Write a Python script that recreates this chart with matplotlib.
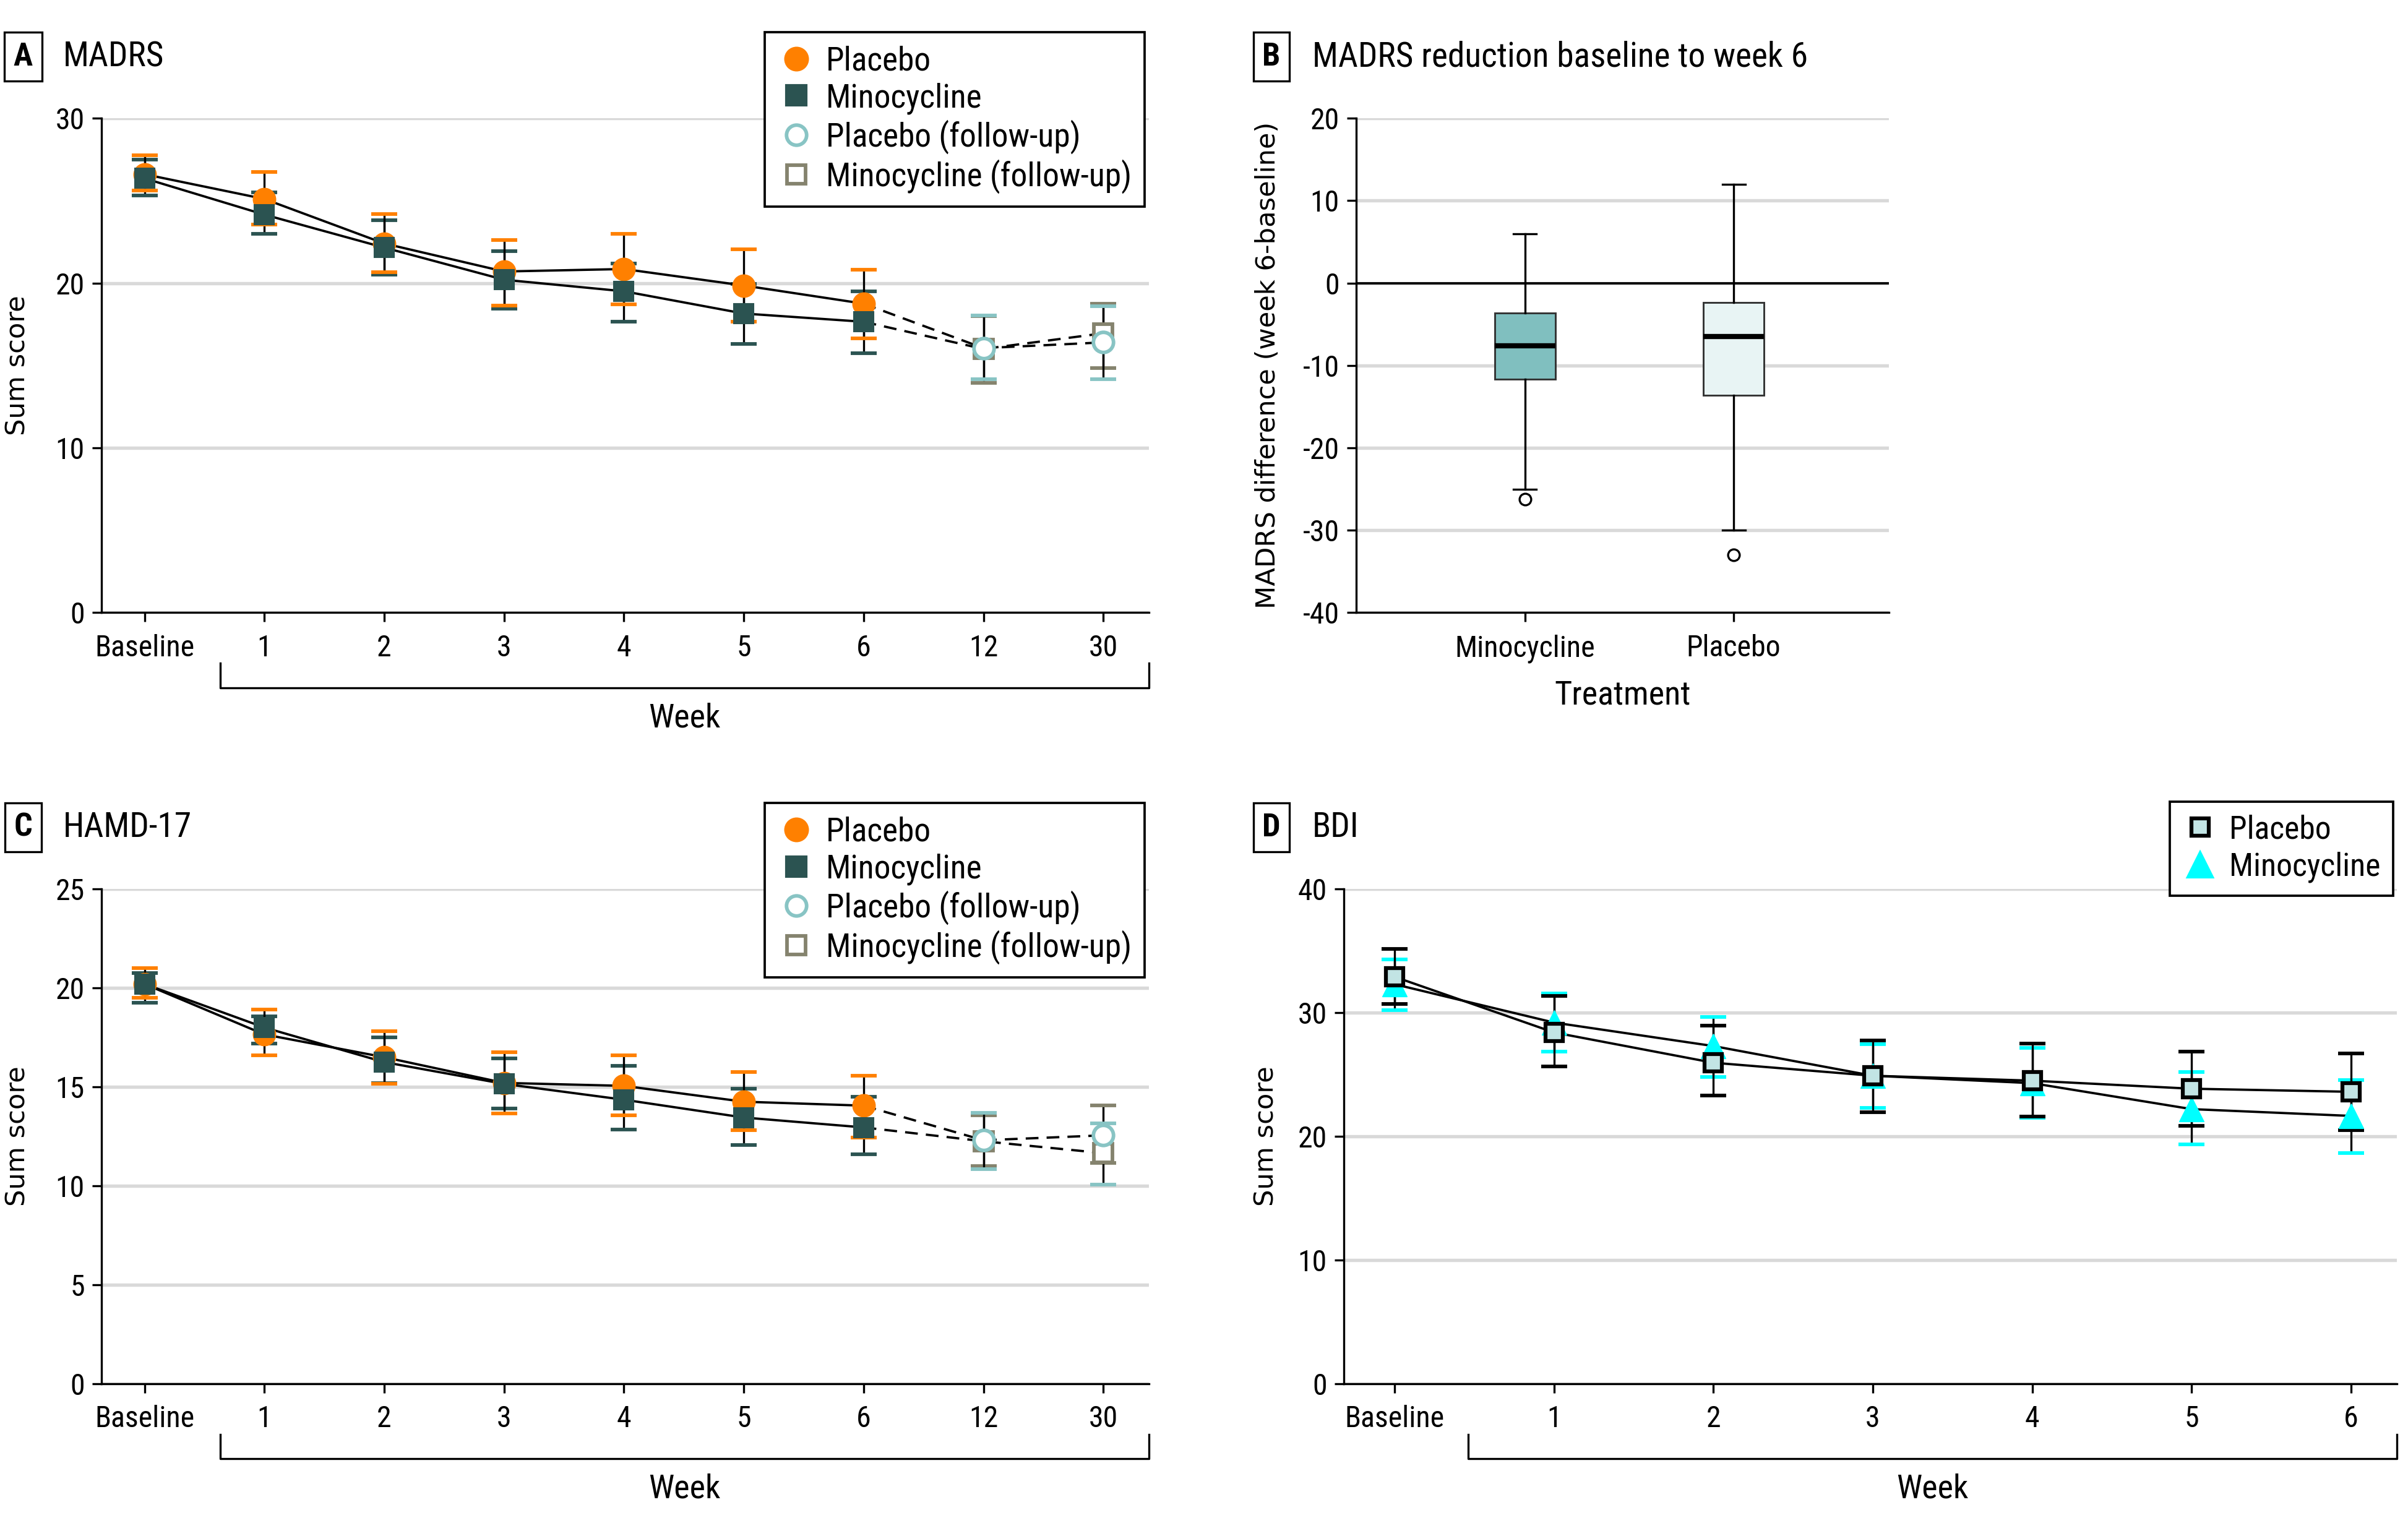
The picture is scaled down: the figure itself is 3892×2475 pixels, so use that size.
import numpy as np
import matplotlib
matplotlib.use("Agg")
import matplotlib.pyplot as plt
from matplotlib import font_manager
from matplotlib.lines import Line2D
from matplotlib.transforms import blended_transform_factory

# ---- data ----
weeks_long = ["Baseline", "1", "2", "3", "4", "5", "6", "12", "30"]
weeks_short = ["Baseline", "1", "2", "3", "4", "5", "6"]

# A  MADRS
madrs_pla_mean = [26.6, 25.1, 22.4, 20.7, 20.85, 19.85, 18.75]
madrs_pla_lo = [25.6, 23.55, 20.65, 18.65, 18.7, 17.65, 16.65]
madrs_pla_hi = [27.75, 26.75, 24.2, 22.6, 23.0, 22.05, 20.8]
madrs_min_mean = [26.35, 24.15, 22.15, 20.2, 19.5, 18.15, 17.65]
madrs_min_lo = [25.3, 23.0, 20.5, 18.45, 17.65, 16.3, 15.75]
madrs_min_hi = [27.5, 25.5, 23.8, 21.95, 21.2, 19.95, 19.5]
madrs_pla_fu_mean = [16.05, 16.4]
madrs_pla_fu_lo = [14.15, 14.15]
madrs_pla_fu_hi = [18.05, 18.6]
madrs_min_fu_mean = [16.0, 16.95]
madrs_min_fu_lo = [13.95, 14.85]
madrs_min_fu_hi = [18.0, 18.75]

# B  MADRS change, box plot
box_labels = ["Minocycline", "Placebo"]
box_q1 = [-11.7, -13.6]
box_med = [-7.6, -6.5]
box_q3 = [-3.6, -2.35]
box_whislo = [-25.0, -30.0]
box_whishi = [6.0, 12.0]
box_fliers = [[-26.2], [-33.0]]

# C  HAMD-17
hamd_pla_mean = [20.2, 17.65, 16.5, 15.2, 15.05, 14.25, 14.05]
hamd_pla_lo = [19.5, 16.6, 15.15, 13.65, 13.55, 12.8, 12.45]
hamd_pla_hi = [21.0, 18.9, 17.8, 16.75, 16.6, 15.75, 15.55]
hamd_min_mean = [20.2, 18.0, 16.25, 15.15, 14.35, 13.45, 12.95]
hamd_min_lo = [19.25, 17.2, 15.2, 13.9, 12.85, 12.05, 11.6]
hamd_min_hi = [20.75, 18.55, 17.5, 16.45, 16.05, 14.9, 14.5]
hamd_pla_fu_mean = [12.3, 12.55]
hamd_pla_fu_lo = [10.85, 10.05]
hamd_pla_fu_hi = [13.7, 13.15]
hamd_min_fu_mean = [12.25, 11.65]
hamd_min_fu_lo = [11.0, 11.15]
hamd_min_fu_hi = [13.55, 14.05]

# D  BDI
bdi_pla_mean = [32.9, 28.4, 25.95, 24.9, 24.5, 23.85, 23.6]
bdi_pla_lo = [30.7, 25.65, 23.3, 21.95, 21.6, 20.85, 20.5]
bdi_pla_hi = [35.15, 31.35, 28.95, 27.75, 27.5, 26.85, 26.7]
bdi_min_mean = [32.3, 29.2, 27.3, 24.9, 24.3, 22.2, 21.65]
bdi_min_lo = [30.2, 26.85, 24.8, 22.3, 21.5, 19.35, 18.65]
bdi_min_hi = [34.3, 31.55, 29.65, 27.45, 27.15, 25.2, 24.55]

# ---- colours ----
ORANGE = "#FF8000"
DARK = "#2B5351"
TEAL = "#88C4C4"
GREYB = "#85836E"
GRID = "#D9D9D9"
BDI_PLA = "#C2E4E4"
CYAN = "#00FFFF"
BOX_MIN = "#80BFBF"
BOX_PLA = "#E8F4F4"


# ---- fonts: a narrow face for the labels if one is installed ----
def pick_narrow(weight):
    order = ["Roboto Condensed", "Liberation Sans Narrow", "Noto Sans", "Open Sans", "DejaVu Sans", "Roboto"]
    pool = [f for f in font_manager.fontManager.ttflist
            if f.style == "normal" and (str(f.stretch) in ("condensed", "semi-condensed", "extra-condensed")
                                        or "Condensed" in f.name or "Narrow" in f.name)]
    if not pool:
        return None

    def key(f):
        fam = next((i for i, n in enumerate(order) if f.name.startswith(n)), len(order))
        st = 0 if str(f.stretch) == "condensed" else 1
        return (fam, st, abs(int(f.weight) - weight))
    f = sorted(pool, key=key)[0]
    return font_manager.FontProperties(fname=f.fname)


fp_reg = pick_narrow(400)
fp_bold = pick_narrow(700)
if fp_reg is None:
    fp_reg = font_manager.FontProperties(family="DejaVu Sans", stretch="condensed")
    fp_bold = font_manager.FontProperties(family="DejaVu Sans", stretch="condensed", weight="bold")


def fp(size, bold=False):
    p = (fp_bold if bold else fp_reg).copy()
    p.set_size(size)
    return p


TICK = 11.5
LEG = 12.8
fig = plt.figure(figsize=(3892 / 300, 2475 / 300), dpi=300)
fig.patch.set_facecolor("white")

axA = fig.add_axes([0.0421, 0.5998, 0.435, 0.323])
axB = fig.add_axes([0.5631, 0.5998, 0.2213, 0.323])
axC = fig.add_axes([0.0421, 0.0963, 0.435, 0.323])
axD = fig.add_axes([0.558, 0.0963, 0.4375, 0.323])


def base_style(ax, yticks, ylim):
    for s in ["top", "right"]:
        ax.spines[s].set_visible(False)
    for s in ["left", "bottom"]:
        ax.spines[s].set_linewidth(0.8)
        ax.spines[s].set_color("black")
    ax.set_ylim(*ylim)
    ax.set_yticks(yticks)
    ax.yaxis.grid(True, color=GRID, lw=1.3)
    ax.set_axisbelow(True)
    ax.tick_params(direction="out", length=3.5, width=0.8, pad=3)
    ax.tick_params(axis="x", pad=4.8)


def tick_fonts(ax):
    for lbl in ax.get_xticklabels() + ax.get_yticklabels():
        lbl.set_fontproperties(fp(TICK))


def group(ax, x, mean, lo, hi, color, z, marker, ms, mfc, mec, mew, zm):
    ax.vlines(x, lo, hi, color="black", lw=0.8, zorder=z)
    ax.plot(x, lo, ls="none", marker="_", ms=10, mew=1.4, color=color, zorder=z + 0.2)
    ax.plot(x, hi, ls="none", marker="_", ms=10, mew=1.4, color=color, zorder=z + 0.2)
    ax.plot(x, mean, ls="none", marker=marker, ms=ms, mfc=mfc, mec=mec, mew=mew, zorder=zm)


def week_bracket(ax, x0, x1):
    tr = blended_transform_factory(ax.transData, ax.transAxes)
    ax.plot([x0, x0, x1, x1], [-0.1025, -0.152, -0.152, -0.1025], color="black", lw=0.8,
            transform=tr, clip_on=False)
    ax.text((x0 + x1) / 2, -0.213, "Week", transform=tr, ha="center", va="center",
            fontproperties=fp(13))


def sum_panel(ax, yticks, ylim, pla, pla_lo, pla_hi, mn, mn_lo, mn_hi,
              pfu, pfu_lo, pfu_hi, mfu, mfu_lo, mfu_hi):
    base_style(ax, yticks, ylim)
    x = np.arange(len(pla))
    xf = np.arange(len(pla), len(pla) + len(pfu))
    ax.plot(x, pla, color="black", lw=0.9, zorder=4)
    ax.plot(x, mn, color="black", lw=0.9, zorder=4)
    ax.plot(np.r_[x[-1], xf], np.r_[pla[-1], pfu], color="black", lw=0.9, ls=(0, (5.5, 3.5)), zorder=4)
    ax.plot(np.r_[x[-1], xf], np.r_[mn[-1], mfu], color="black", lw=0.9, ls=(0, (5.5, 3.5)), zorder=4)
    group(ax, x, mn, mn_lo, mn_hi, DARK, 2, "s", 7.8, DARK, DARK, 0.5, 6)
    group(ax, x, pla, pla_lo, pla_hi, ORANGE, 2.5, "o", 8.6, ORANGE, ORANGE, 0.5, 5)
    group(ax, xf, mfu, mfu_lo, mfu_hi, GREYB, 2, "s", 7.2, "white", GREYB, 1.4, 5.5)
    group(ax, xf, pfu, pfu_lo, pfu_hi, TEAL, 2.5, "o", 7.8, "white", TEAL, 1.4, 6.5)
    ax.set_xlim(-0.36, 8.38)
    ax.set_xticks(np.arange(len(weeks_long)))
    ax.set_xticklabels(weeks_long)
    ax.set_ylabel("Sum score", fontsize=10.4, family="DejaVu Sans")
    ax.yaxis.set_label_coords(-0.0674, 0.5)
    tick_fonts(ax)
    week_bracket(ax, 0.63, 8.38)
    handles = [
        Line2D([], [], ls="none", marker="o", ms=8.6, mfc=ORANGE, mec=ORANGE),
        Line2D([], [], ls="none", marker="s", ms=7.8, mfc=DARK, mec=DARK),
        Line2D([], [], ls="none", marker="o", ms=7.8, mfc="white", mec=TEAL, mew=1.4),
        Line2D([], [], ls="none", marker="s", ms=7.2, mfc="white", mec=GREYB, mew=1.4),
    ]
    return handles


hA = sum_panel(axA, [0, 10, 20, 30], (0, 30), madrs_pla_mean, madrs_pla_lo, madrs_pla_hi,
               madrs_min_mean, madrs_min_lo, madrs_min_hi,
               madrs_pla_fu_mean, madrs_pla_fu_lo, madrs_pla_fu_hi,
               madrs_min_fu_mean, madrs_min_fu_lo, madrs_min_fu_hi)
hC = sum_panel(axC, [0, 5, 10, 15, 20, 25], (0, 25), hamd_pla_mean, hamd_pla_lo, hamd_pla_hi,
               hamd_min_mean, hamd_min_lo, hamd_min_hi,
               hamd_pla_fu_mean, hamd_pla_fu_lo, hamd_pla_fu_hi,
               hamd_min_fu_mean, hamd_min_fu_lo, hamd_min_fu_hi)

leg_labels = ["Placebo", "Minocycline", "Placebo (follow-up)", "Minocycline (follow-up)"]
for ax, h, top in [(axA, hA, 0.9789), (axC, hC, 0.4754)]:
    lg = ax.legend(h, leg_labels, loc="upper left", bbox_to_anchor=(0.3176, top),
                   bbox_transform=fig.transFigure, borderaxespad=0, prop=fp(LEG),
                   fancybox=False, edgecolor="black", framealpha=1, handletextpad=0.35,
                   labelspacing=0.16, borderpad=0.4, handlelength=1.1)
    lg.get_frame().set_linewidth(0.9)

# ---- B: box plot ----
base_style(axB, [-40, -30, -20, -10, 0, 10, 20], (-40, 20))
stats = []
for i in range(len(box_labels)):
    stats.append(dict(label=box_labels[i], q1=box_q1[i], med=box_med[i], q3=box_q3[i],
                      whislo=box_whislo[i], whishi=box_whishi[i], fliers=box_fliers[i]))
bp = axB.bxp(stats, positions=[1, 2], widths=0.29, patch_artist=True, showfliers=True,
             boxprops=dict(lw=0.7, edgecolor="#333333"),
             medianprops=dict(color="black", lw=2.0),
             whiskerprops=dict(color="black", lw=0.8),
             capprops=dict(color="black", lw=0.8),
             capwidths=0.11,
             flierprops=dict(marker="o", ms=4.5, mfc="white", mec="black", mew=0.8))
for patch, col in zip(bp["boxes"], [BOX_MIN, BOX_PLA]):
    patch.set_facecolor(col)
    patch.set_zorder(3)
for k in ["medians", "whiskers", "caps", "fliers"]:
    for a in bp[k]:
        a.set_zorder(4)
axB.axhline(0, color="black", lw=0.9, zorder=2)
axB.set_xlim(0.191, 2.743)
axB.set_yticklabels(["-40", "-30", "-20", "-10", "0", "10", "20"])
axB.set_ylabel("MADRS difference (week 6-baseline)", fontsize=10.4, family="DejaVu Sans")
axB.yaxis.set_label_coords(-0.141, 0.5)
tick_fonts(axB)
axB.set_xlabel("Treatment", fontproperties=fp(13))
axB.xaxis.set_label_coords(0.5, -0.135)

# ---- D: BDI ----
base_style(axD, [0, 10, 20, 30, 40], (0, 40))
xd = np.arange(len(weeks_short))
axD.plot(xd, bdi_pla_mean, color="black", lw=0.9, zorder=4)
axD.plot(xd, bdi_min_mean, color="black", lw=0.9, zorder=4)
group(axD, xd, bdi_min_mean, bdi_min_lo, bdi_min_hi, CYAN, 2, "^", 9.5, CYAN, CYAN, 0.3, 5)
group(axD, xd, bdi_pla_mean, bdi_pla_lo, bdi_pla_hi, "black", 2.5, "s", 6.8, BDI_PLA, "black", 1.5, 6)
axD.set_xlim(-0.32, 6.29)
axD.set_xticks(xd)
axD.set_xticklabels(weeks_short)
axD.set_ylabel("Sum score", fontsize=10.4, family="DejaVu Sans")
axD.yaxis.set_label_coords(-0.061, 0.5)
tick_fonts(axD)
week_bracket(axD, 0.46, 6.29)
hD = [Line2D([], [], ls="none", marker="s", ms=6.8, mfc=BDI_PLA, mec="black", mew=1.5),
      Line2D([], [], ls="none", marker="^", ms=9.5, mfc=CYAN, mec=CYAN)]
lg = axD.legend(hD, ["Placebo", "Minocycline"], loc="upper left", bbox_to_anchor=(0.9011, 0.4764),
                bbox_transform=fig.transFigure, borderaxespad=0, prop=fp(12.4),
                fancybox=False, edgecolor="black", framealpha=1, handletextpad=0.35,
                labelspacing=0.2, borderpad=0.4, handlelength=1.1)
lg.get_frame().set_linewidth(0.9)

# ---- panel letters and titles ----
for letter, title, xl, xt, y in [("A", "MADRS", 0.0096, 0.0261, 0.963),
                                 ("B", "MADRS reduction baseline to week 6", 0.528, 0.545, 0.963),
                                 ("C", "HAMD-17", 0.0096, 0.0261, 0.4595),
                                 ("D", "BDI", 0.528, 0.545, 0.4595)]:
    fig.text(xl, y, letter, ha="center", va="center", fontproperties=fp(12.5, bold=True),
             bbox=dict(boxstyle="square,pad=0.28", fc="white", ec="black", lw=0.8))
    fig.text(xt, y, title, ha="left", va="center", fontproperties=fp(13.3))

fig.savefig("out.png", dpi=300, facecolor="white")
